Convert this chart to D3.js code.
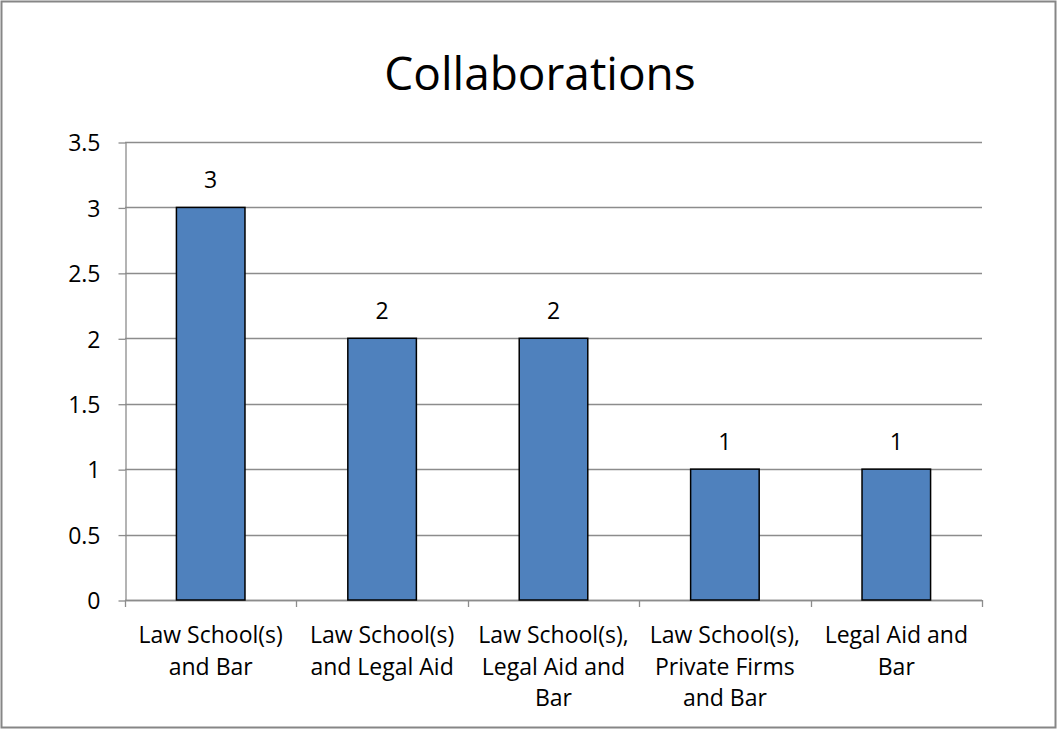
<!DOCTYPE html>
<html>
<head>
<meta charset="utf-8">
<script src="https://cdn.jsdelivr.net/npm/d3@7"></script>
<style>
body{margin:0;background:#fff;}
</style>
</head>
<body>
<div id="svgContainer"></div>
<script>
// data
var categories = [
  ["Law School(s)", "and Bar"],
  ["Law School(s)", "and Legal Aid"],
  ["Law School(s),", "Legal Aid and", "Bar"],
  ["Law School(s),", "Private Firms", "and Bar"],
  ["Legal Aid and", "Bar"]
];
var values = [3, 2, 2, 1, 1];
var yTicks = [0, 0.5, 1, 1.5, 2, 2.5, 3, 3.5];

var svgWidth = 1059, svgHeight = 730;
var margin = {top:142, left:125, right:77, bottom:130};
var font = "'Open Sans', sans-serif";
var fs = 23;

var svg = d3.select("#svgContainer").append("svg")
  .attr("width", svgWidth)
  .attr("height", svgHeight)
  .style("display", "block");

// outer frame
svg.append("rect")
  .attr("x", 1.5).attr("y", 1.5)
  .attr("width", svgWidth - 5).attr("height", svgHeight - 4)
  .attr("fill", "#fff").attr("stroke", "#868686").attr("stroke-width", 2);

var x = d3.scaleBand()
  .domain(d3.range(categories.length))
  .range([margin.left, svgWidth - margin.right])
  .paddingInner(0.6).paddingOuter(0.3);
var xb = d3.scaleBand()
  .domain(d3.range(categories.length))
  .range([margin.left, svgWidth - margin.right]);
var y = d3.scaleLinear().domain([0, 3.5]).range([svgHeight - margin.bottom, margin.top]);

// gridlines
svg.append("g")
  .selectAll("line")
  .data(yTicks)
  .enter().append("line")
  .attr("x1", margin.left).attr("x2", svgWidth - margin.right)
  .attr("y1", d => Math.round(y(d)) + 0.5).attr("y2", d => Math.round(y(d)) + 0.5)
  .attr("stroke", "#8c8c8c").attr("stroke-width", 1.3);

// y axis
var yAxis = svg.append("g")
  .attr("transform", "translate(" + (margin.left + 0.5) + ",0.5)")
  .call(d3.axisLeft(y).tickValues(yTicks).tickSize(7).tickSizeOuter(0).tickPadding(18)
    .tickFormat(d3.format("")));
yAxis.select(".domain").attr("stroke", "#8c8c8c").attr("stroke-width", 1.3);
yAxis.selectAll("line").attr("stroke", "#8c8c8c").attr("stroke-width", 1.3);
yAxis.selectAll("text").attr("font-family", font).attr("font-size", fs).attr("fill", "#000")
  .attr("dy", "0.36em");

// x axis ticks at category boundaries
var xEdges = d3.range(categories.length + 1).map(i => margin.left + i * xb.bandwidth());
svg.append("line")
  .attr("x1", margin.left).attr("x2", svgWidth - margin.right)
  .attr("y1", Math.round(y(0)) + 0.5).attr("y2", Math.round(y(0)) + 0.5)
  .attr("stroke", "#8c8c8c").attr("stroke-width", 1.3);
svg.append("g").selectAll("line")
  .data(xEdges).enter().append("line")
  .attr("x1", d => Math.round(d) + 0.5).attr("x2", d => Math.round(d) + 0.5)
  .attr("y1", y(0)).attr("y2", y(0) + 7)
  .attr("stroke", "#8c8c8c").attr("stroke-width", 1.3);

// bars
svg.selectAll("rect.bar")
  .data(values)
  .enter().append("rect")
  .attr("class", "bar")
  .attr("x", (d, i) => x(i))
  .attr("y", d => y(d))
  .attr("width", x.bandwidth())
  .attr("height", d => y(0) - y(d))
  .attr("fill", "#4f81bd")
  .attr("stroke", "#000").attr("stroke-width", 1.5);

// data labels
svg.selectAll("text.val")
  .data(values)
  .enter().append("text")
  .attr("class", "val")
  .attr("x", (d, i) => x(i) + x.bandwidth() / 2)
  .attr("y", d => y(d) - 19)
  .attr("text-anchor", "middle")
  .attr("font-family", font).attr("font-size", fs)
  .text(d => d);

// category labels
var cat = svg.selectAll("text.cat")
  .data(categories)
  .enter().append("text")
  .attr("class", "cat")
  .attr("x", (d, i) => xb(i) + xb.bandwidth() / 2)
  .attr("y", y(0) + 43)
  .attr("text-anchor", "middle")
  .attr("font-family", font).attr("font-size", fs);
cat.selectAll("tspan")
  .data(d => d)
  .enter().append("tspan")
  .attr("x", function(){ return d3.select(this.parentNode).attr("x"); })
  .attr("dy", (d, i) => i == 0 ? 0 : 31.5)
  .text(d => d);

// title
svg.append("text")
  .attr("x", 540).attr("y", 90)
  .attr("text-anchor", "middle")
  .attr("font-family", font).attr("font-size", 46)
  .text("Collaborations");
</script>
</body>
</html>
